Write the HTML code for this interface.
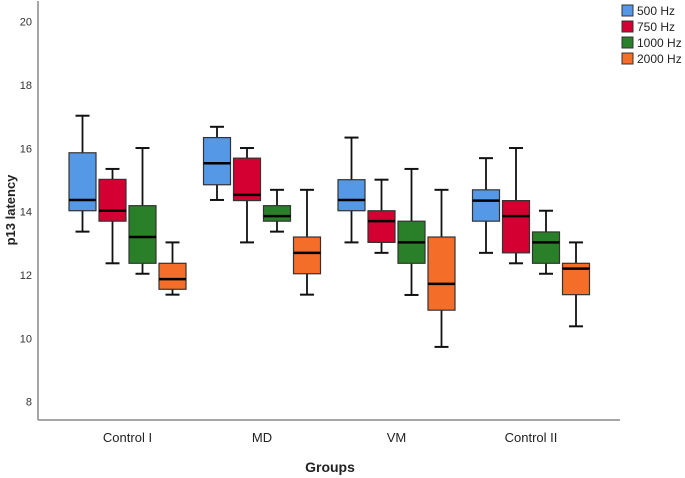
<!DOCTYPE html>
<html><head><meta charset="utf-8"><style>
body{margin:0;background:#fff;}
svg{display:block;font-family:"Liberation Sans",sans-serif;}
</style></head><body>
<svg id="chart" width="685" height="478">
<g id="axes"></g><g id="marks"></g><g id="legend"></g>
</svg>
<script>
const groups=["Control I","MD","VM","Control II"];
const series=["500 Hz","750 Hz","1000 Hz","2000 Hz"];
const colors=["#5598e6","#d50032","#2a8028","#f46e2a"];
const yTicks=[8,10,12,14,16,18,20];
// [min,q1,median,q3,max] per group per series
const s500=[[13.37,14.03,14.37,15.86,17.03],[14.37,14.85,15.53,16.34,16.68],[13.03,14.03,14.37,15.01,16.34],[12.70,13.70,14.35,14.69,15.69]];
const s750=[[12.37,13.70,14.03,15.02,15.35],[13.03,14.35,14.53,15.69,16.01],[12.70,13.03,13.70,14.03,15.01],[12.37,12.70,13.86,14.35,16.01]];
const s1000=[[12.04,12.37,13.20,14.19,16.01],[13.37,13.70,13.86,14.19,14.69],[11.37,12.37,13.03,13.70,15.35],[12.04,12.37,13.03,13.36,14.03]];
const s2000=[[11.38,11.55,11.87,12.37,13.03],[11.38,12.04,12.70,13.20,14.69],[9.73,10.89,11.72,13.20,14.69],[10.38,11.38,12.20,12.37,13.03]];
const allSeries=[s500,s750,s1000,s2000];

const NS="http://www.w3.org/2000/svg";
function mk(tag,attrs,parent){const e=document.createElementNS(NS,tag);for(const k in attrs)e.setAttribute(k,attrs[k]);parent.appendChild(e);return e;}
const y=v=>401.7-(v-8)*31.67;
const gx=i=>127.5+i*134.5;
const offs=[-45,-15,15,45], bw=27;
const axes=document.getElementById('axes'),marks=document.getElementById('marks'),legend=document.getElementById('legend');

let l=mk('line',{x1:38,y1:1,x2:38,y2:420,stroke:'#888','stroke-width':1.5},axes);


l=mk('line',{x1:38,y1:420,x2:620,y2:420,stroke:'#888','stroke-width':1.5},axes);


yTicks.forEach(t=>{const e=mk('text',{x:32,y:y(t)+4,'text-anchor':'end','font-size':11,fill:'#333'},axes);e.textContent=t;

});
groups.forEach((g,i)=>{const e=mk('text',{x:gx(i),y:442,'text-anchor':'middle','font-size':13,fill:'#222'},axes);e.textContent=g;

});
let t=mk('text',{x:330,y:472,'text-anchor':'middle','font-size':14,'font-weight':'bold',fill:'#222'},axes);t.textContent='Groups';


t=mk('text',{x:0,y:0,transform:'translate(15,210) rotate(-90)','text-anchor':'middle','font-size':13,'font-weight':'bold',fill:'#222'},axes);t.textContent='p13 latency';



allSeries.forEach((ser,si)=>{ser.forEach((d,gi)=>{
 const cx=gx(gi)+offs[si], x0=cx-bw/2;
 const g=mk('g',{},marks);
 
 
 mk('line',{x1:cx,y1:y(d[4]),x2:cx,y2:y(d[3]),stroke:'#111','stroke-width':1.8},g);
 mk('line',{x1:cx,y1:y(d[1]),x2:cx,y2:y(d[0]),stroke:'#111','stroke-width':1.8},g);
 mk('line',{x1:cx-7,y1:y(d[4]),x2:cx+7,y2:y(d[4]),stroke:'#111','stroke-width':2},g);
 mk('line',{x1:cx-7,y1:y(d[0]),x2:cx+7,y2:y(d[0]),stroke:'#111','stroke-width':2},g);
 mk('rect',{x:x0,y:y(d[3]),width:bw,height:y(d[1])-y(d[3]),fill:colors[si],stroke:'#333','stroke-width':1.2},g);
 mk('line',{x1:x0,y1:y(d[2]),x2:x0+bw,y2:y(d[2]),stroke:'#000','stroke-width':2.5},g);
});});

series.forEach((s,i)=>{const g=mk('g',{},legend);
 
 
 mk('rect',{x:622,y:5+i*16,width:11,height:11,fill:colors[i],stroke:'#333','stroke-width':1},g);
 const e=mk('text',{x:637,y:15+i*16,'font-size':12,fill:'#222'},g);e.textContent=s;});
</script>
</body></html>
